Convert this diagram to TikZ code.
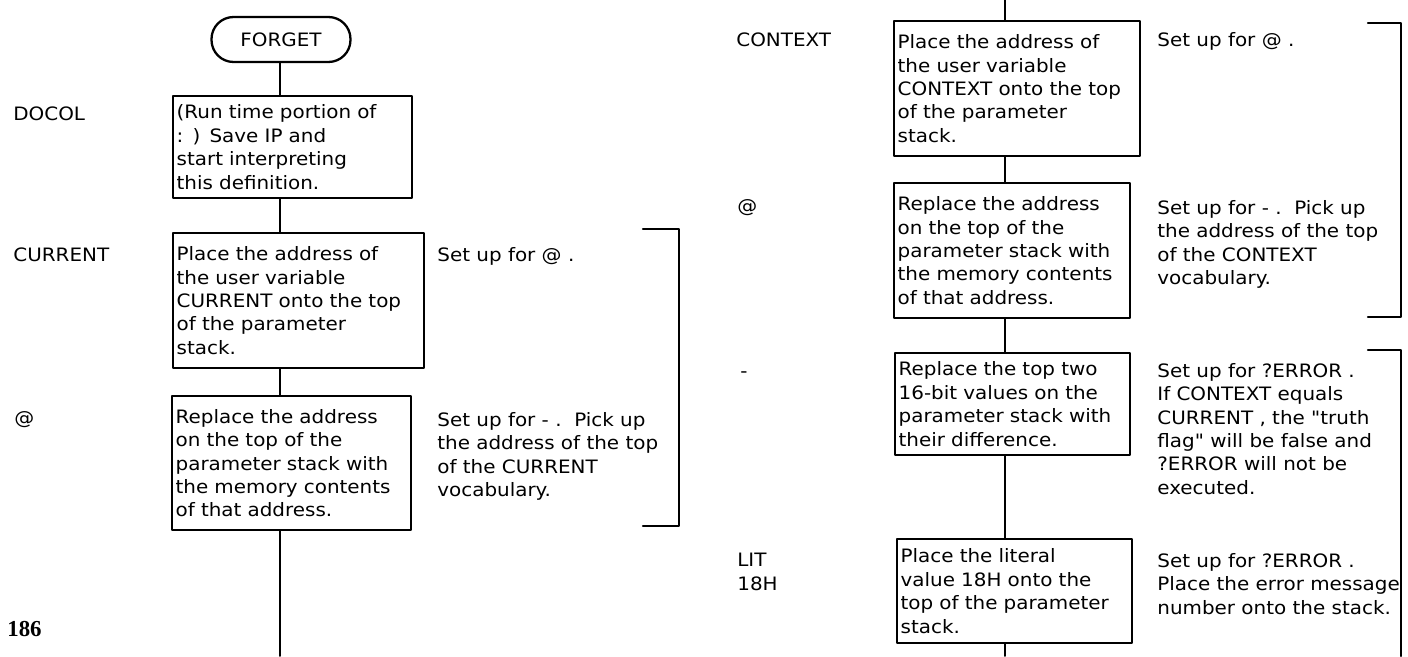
\documentclass[tikz,border=0pt]{standalone}
\usepackage{fontspec}
\setmainfont{DejaVu Sans}[FakeStretch=1.08]
\newfontfamily\plainquote{DejaVu Sans}[FakeStretch=1.08]
\newfontfamily\pagenumfont{Liberation Serif}
\newcommand{\dq}{{\plainquote"}}

\begin{document}
\begin{tikzpicture}[x=0.02cm,y=-0.02cm,line cap=round,line join=round,
  font=\fontsize{10.5}{13.3}\selectfont,
  stepbox/.style={draw,line width=1.3pt,anchor=north west,align=left,inner xsep=2pt,inner ysep=0pt},
  termbox/.style={draw,line width=1.3pt,rounded corners=0.44cm,minimum width=2.78cm,minimum height=0.9cm,inner sep=0pt},
  wordlabel/.style={inner sep=0pt,anchor=north west,align=left},
  sidenote/.style={inner sep=0pt,anchor=north west,align=left},
  link/.style={line width=1.1pt},
  brace/.style={line width=1.4pt}]
  \useasboundingbox (0,0) rectangle (1408,656);
  % 左列
  \coordinate (lspine) at (280,0);
  \coordinate (lend) at (280,656);
  \node[termbox] (forget) at (281,39.5) {FORGET};
  \node[stepbox,text width=4.64cm,minimum height=2.04cm] (docol) at (172,95)
    {(Run time portion of\\: ) Save IP and\\start interpreting\\this definition.};
  \node[stepbox,text width=4.88cm,minimum height=2.7cm] (curr) at (172,232)
    {Place the address of\\the user variable\\CURRENT onto the top\\of the parameter\\stack.};
  \node[stepbox,text width=4.64cm,minimum height=2.68cm] (fetchl) at (171,395)
    {Replace the address\\on the top of the\\parameter stack with\\the memory contents\\of that address.};
  \node[wordlabel] (wdocol) at (13,106) {DOCOL};
  \node[wordlabel] (wcurr) at (13,247) {CURRENT};
  \node[wordlabel] (wfetchl) at (14,411) {@};
  \node[wordlabel,font=\pagenumfont\bfseries\fontsize{13}{14}\selectfont] (pagenum) at (7,621) {186};
  \node[sidenote] (ncurr) at (437,247) {Set up for @ .};
  \node[sidenote] (nfetchl) at (437,412)
    {Set up for - .~~Pick up\\the address of the top\\of the CURRENT\\vocabulary.};
  \draw[link] (lspine |- forget.south) -- (lspine |- docol.north);
  \draw[link] (lspine |- docol.south) -- (lspine |- curr.north);
  \draw[link] (lspine |- curr.south) -- (lspine |- fetchl.north);
  \draw[link] (lspine |- fetchl.south) -- (lend);
  \draw[brace] (643,229) -| (679,526) -- (643,526);
  % 右列
  \coordinate (rspine) at (1005,0);
  \coordinate (rend) at (1005,656);
  \node[stepbox,text width=4.78cm,minimum height=2.7cm] (ctx) at (893,20)
    {Place the address of\\the user variable\\CONTEXT onto the top\\of the parameter\\stack.};
  \node[stepbox,text width=4.58cm,minimum height=2.7cm] (fetchr) at (893,182)
    {Replace the address\\on the top of the\\parameter stack with\\the memory contents\\of that address.};
  \node[stepbox,text width=4.56cm,minimum height=2.04cm] (minus) at (894,352)
    {Replace the top two\\16-bit values on the\\parameter stack with\\their difference.};
  \node[stepbox,text width=4.56cm,minimum height=2.08cm] (lit) at (896,538)
    {Place the literal\\value 18H onto the\\top of the parameter\\stack.};
  \node[wordlabel] (wctx) at (736,32) {CONTEXT};
  \node[wordlabel] (wfetchr) at (737,199) {@};
  \node[wordlabel,anchor=base west] (wminus) at (740,377) {-};
  \node[wordlabel] (wlit) at (737,553) {LIT\\18H};
  \node[sidenote] (nctx) at (1157,32) {Set up for @ .};
  \node[sidenote] (nfetchr) at (1157,200)
    {Set up for - .~~Pick up\\the address of the top\\of the CONTEXT\\vocabulary.};
  \node[sidenote] (nminus) at (1157,363)
    {Set up for ?ERROR .\\If CONTEXT equals\\CURRENT , the \dq truth\\flag\dq{} will be false and\\?ERROR will not be\\executed.};
  \node[sidenote] (nlit) at (1157,553)
    {Set up for ?ERROR .\\Place the error message\\number onto the stack.};
  \draw[link] (rspine) -- (rspine |- ctx.north);
  \draw[link] (rspine |- ctx.south) -- (rspine |- fetchr.north);
  \draw[link] (rspine |- fetchr.south) -- (rspine |- minus.north);
  \draw[link] (rspine |- minus.south) -- (rspine |- lit.north);
  \draw[link] (rspine |- lit.south) -- (rend);
  \draw[brace] (1368,23) -| (1401,317) -- (1368,317);
  \draw[brace] (1368,350) -| (1401,656);
\end{tikzpicture}
\end{document}
